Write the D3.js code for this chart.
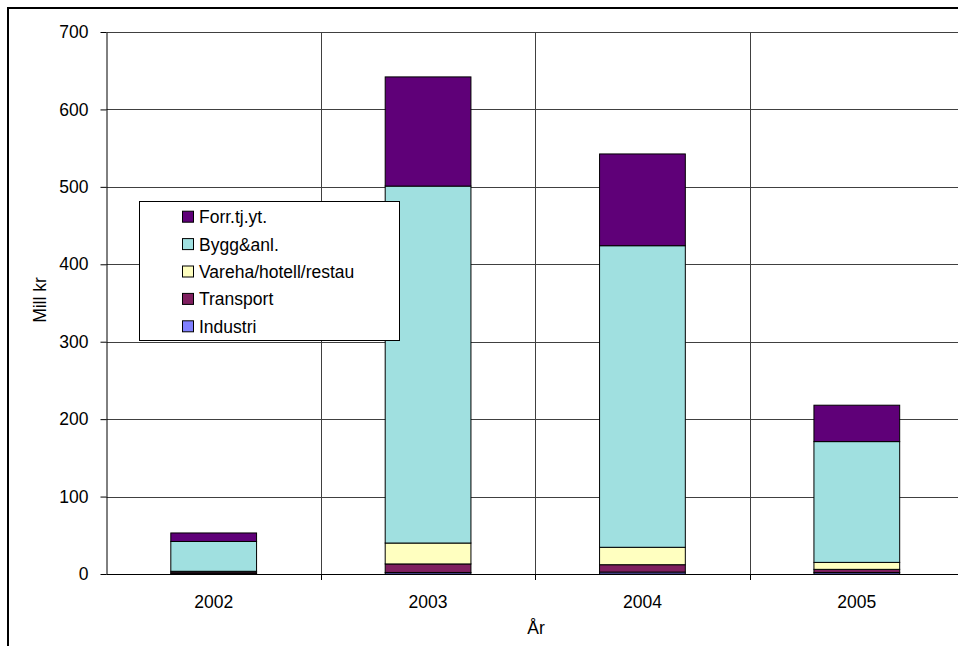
<!DOCTYPE html>
<html>
<head>
<meta charset="utf-8">
<script src="https://cdn.jsdelivr.net/npm/d3@7/dist/d3.min.js"></script>
<style>
  html, body { margin: 0; padding: 0; background: #fff; }
  svg { display: block; font-family: Arial, "Liberation Sans", sans-serif; }
</style>
</head>
<body>
<svg id="chart" width="958" height="646"></svg>
<script>
// Years on the x axis
const years = ["2002", "2003", "2004", "2005"];
// Sector series, stacked bottom to top (Mill kr)
const industri = [0.5, 2, 2.5, 2];
const transport = [2, 11, 9.5, 4];
const vareha = [1, 27, 22.5, 9];
const bygg = [38.5, 461, 389.5, 156];
const forr = [11, 141, 118.5, 47];
const seriesNames = ["Industri", "Transport", "Vareha/hotell/restau", "Bygg&anl.", "Forr.tj.yt."];
const seriesColors = ["#8080ff", "#7f1f5f", "#ffffc0", "#a0e0e0", "#5f0078"];
const yTicks = [0, 100, 200, 300, 400, 500, 600, 700];

const seriesValues = [industri, transport, vareha, bygg, forr];
const rows = years.map((yr, i) => {
  const r = { year: yr };
  seriesNames.forEach((n, k) => r[n] = seriesValues[k][i]);
  return r;
});

const FONT = "Arial, 'Liberation Sans', sans-serif";
const FS = 17.5;
const svg = d3.select("#chart");
const plotLeft = 106.5, plotRight = 964, plotTop = 32, plotBottom = 574;

// Outer chart frame
svg.append("rect").attr("x", 8).attr("y", 8).attr("width", 1000).attr("height", 700)
  .attr("fill", "none").attr("stroke", "#000").attr("stroke-width", 2);

const x = d3.scaleBand().domain(years).range([plotLeft, plotRight]).paddingInner(0).paddingOuter(0);
const y = d3.scaleLinear().domain([0, 700]).range([plotBottom, plotTop]);

// Horizontal gridlines
svg.append("g").selectAll("line").data(yTicks.filter(t => t > 0)).join("line")
  .attr("x1", plotLeft).attr("x2", plotRight)
  .attr("y1", d => Math.round(y(d)) + 0.5).attr("y2", d => Math.round(y(d)) + 0.5)
  .attr("stroke", "#404040").attr("stroke-width", 1);

// Vertical gridlines between categories
svg.append("g").selectAll("line").data(years.slice(1)).join("line")
  .attr("x1", d => Math.round(x(d)) + 0.5).attr("x2", d => Math.round(x(d)) + 0.5)
  .attr("y1", plotTop).attr("y2", plotBottom)
  .attr("stroke", "#404040").attr("stroke-width", 1);

// Stacked bars
const stack = d3.stack().keys(seriesNames)(rows);
const barW = x.bandwidth() * 0.4;
svg.append("g").selectAll("g").data(stack).join("g")
  .attr("fill", (d, i) => seriesColors[i])
  .selectAll("rect").data(d => d).join("rect")
  .attr("x", d => x(d.data.year) + (x.bandwidth() - barW) / 2)
  .attr("width", barW)
  .attr("y", d => y(d[1]))
  .attr("height", d => y(d[0]) - y(d[1]))
  .attr("stroke", "#000").attr("stroke-width", 1);

// Y axis
const yAxis = d3.axisLeft(y).tickValues(yTicks).tickSize(6).tickSizeOuter(0).tickPadding(12);
const gy = svg.append("g").attr("transform", `translate(${plotLeft},0)`).call(yAxis);
gy.select(".domain").attr("stroke", "#000");
gy.selectAll(".tick line").attr("stroke", "#000");
gy.selectAll("text").attr("font-size", FS).attr("fill", "#000").attr("font-family", FONT);

// X axis
const xAxis = d3.axisBottom(x).tickSize(0).tickPadding(22);
const gx = svg.append("g").attr("transform", `translate(0,${plotBottom})`).call(xAxis);
gx.select(".domain").attr("stroke", "#000").attr("d", `M${plotLeft},0.5H${plotRight}`);
gx.selectAll("text").attr("font-size", FS).attr("fill", "#000").attr("font-family", FONT);
// Category separator ticks
svg.append("g").selectAll("line").data(years.slice(1)).join("line")
  .attr("x1", d => Math.round(x(d)) + 0.5).attr("x2", d => Math.round(x(d)) + 0.5)
  .attr("y1", plotBottom).attr("y2", plotBottom + 6).attr("stroke", "#000");

// Axis titles
svg.append("text").attr("x", 536).attr("y", 634).attr("text-anchor", "middle")
  .attr("font-size", FS).attr("font-family", FONT).text("År");
svg.append("text").attr("transform", "translate(46,300) rotate(-90)")
  .attr("text-anchor", "middle").attr("font-size", FS).attr("font-family", FONT).text("Mill kr");

// Legend
const lg = svg.append("g");
lg.append("rect").attr("x", 139.5).attr("y", 201.5).attr("width", 260).attr("height", 139)
  .attr("fill", "#fff").attr("stroke", "#000");
const legendOrder = seriesNames.map((n, i) => ({ n, c: seriesColors[i] })).reverse();
const items = lg.selectAll("g.item").data(legendOrder).join("g").attr("class", "item")
  .attr("transform", (d, i) => `translate(182,${216.7 + i * 27.4})`);
items.append("rect").attr("x", 0.5).attr("y", -5.5).attr("width", 11).attr("height", 11)
  .attr("fill", d => d.c).attr("stroke", "#000");
items.append("text").attr("x", 17).attr("y", 6.5).attr("font-size", FS).attr("font-family", FONT)
  .text(d => d.n);
</script>
</body>
</html>
